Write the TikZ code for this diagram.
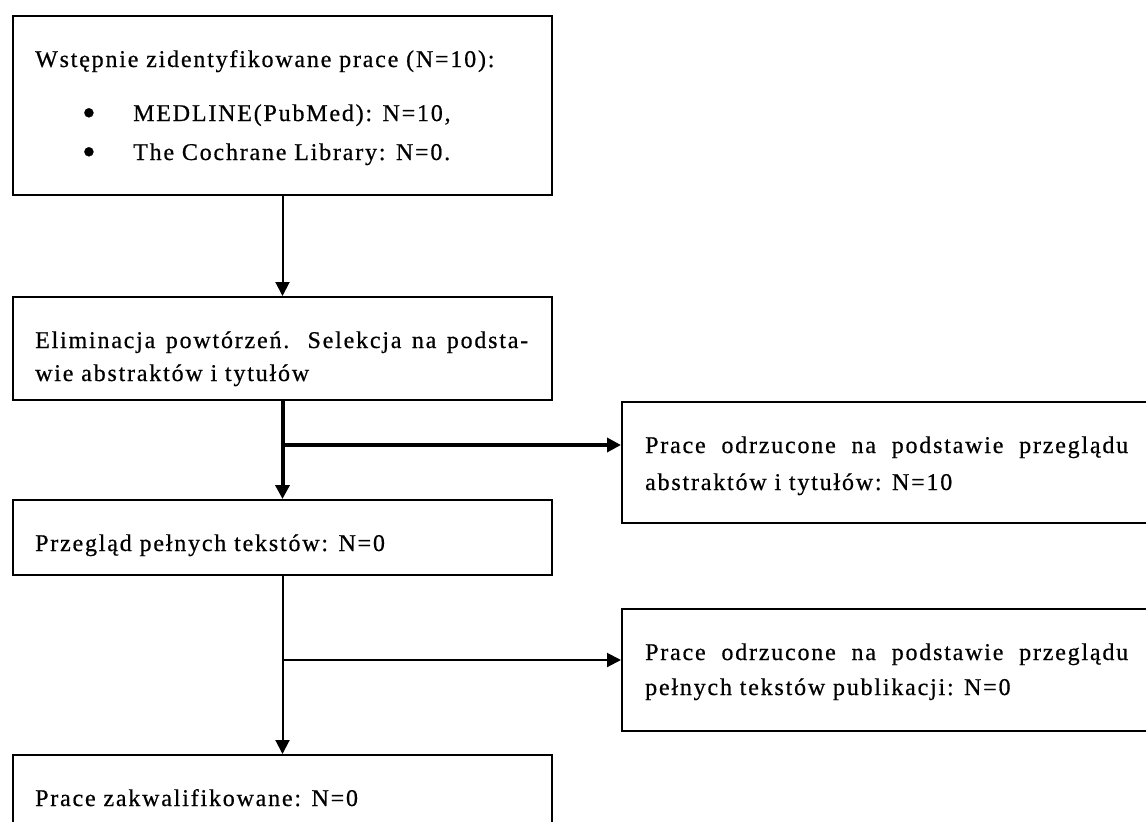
\documentclass[tikz,border=0pt]{standalone}
\usepackage{fontspec}
\setmainfont{Liberation Serif}[LetterSpace=7.5, FakeBold=0.6]
\usetikzlibrary{arrows.meta}
\tikzset{
  box/.style={draw, line width=2pt, rectangle, inner sep=0pt, fill=white},
  txt/.style={inner sep=0pt, anchor=base west},
  thinline/.style={line width=2pt},
  thickline/.style={line width=4pt},
  tip/.style={-{Triangle[width=14pt,length=14pt]}}
}
\newcommand{\bigbul}{\raisebox{-4.5pt}{\scalebox{1.6}{\textbullet}}}
\begin{document}
\begin{tikzpicture}[x=1pt,y=-1pt]
\useasboundingbox (0,0) rectangle (1146,822);
\clip (0,0) rectangle (1146,822);
\fill[white] (0,0) rectangle (1146,822);
% boxes
\node[box, minimum width=539pt, minimum height=179pt] (b1) at (282.5,105.5) {};
\node[box, minimum width=539pt, minimum height=103pt] (b2) at (282.5,348.5) {};
\node[box, minimum width=558pt, minimum height=121pt] (b3) at (901,462.5) {};
\node[box, minimum width=539pt, minimum height=75pt] (b4) at (282.5,537.5) {};
\node[box, minimum width=558pt, minimum height=122pt] (b5) at (901,670) {};
\node[box, minimum width=539pt, minimum height=125pt] (b6) at (282.5,817.5) {};
% texts
\node[txt] (t1) at (35,67) {\parbox[t]{495pt}{\fontsize{24}{39}\selectfont
Wstępnie zidentyfikowane prace (N=10):\\[15pt]
\hspace*{47pt}\makebox[51pt][l]{\bigbul}MEDLINE(PubMed): N=10,\\
\hspace*{47pt}\makebox[51pt][l]{\bigbul}The Cochrane Library: N=0.}};
\node[txt] (t2) at (35,348) {\parbox[t]{493pt}{\fontsize{24}{33}\selectfont
Eliminacja powtórzeń. Selekcja na podsta-\linebreak wie abstraktów i tytułów}};
\node[txt] (t3) at (645,453) {\parbox[t]{483pt}{\fontsize{24}{37}\selectfont
Prace odrzucone na podstawie przeglądu\linebreak abstraktów i tytułów: N=10}};
\node[txt] (t4) at (35,551) {\fontsize{24}{33}\selectfont Przegląd pełnych tekstów: N=0};
\node[txt] (t5) at (645,660) {\parbox[t]{483pt}{\fontsize{24}{35}\selectfont
Prace odrzucone na podstawie przeglądu\linebreak pełnych tekstów publikacji: N=0}};
\node[txt] (t6) at (35,806) {\fontsize{24}{33}\selectfont Prace zakwalifikowane: N=0};
% connectors
\coordinate (j1) at (282.5,445);
\coordinate (j2) at (282.5,660);
\draw[thinline, tip] (b1.south) -- (b2.north);
\draw[thickline, tip] (b2.south) -- (b4.north);
\draw[thickline, tip] (j1) -- (j1 -| b3.west);
\draw[thinline, tip] (b4.south) -- (b6.north);
\draw[thinline, tip] (j2) -- (j2 -| b5.west);
\end{tikzpicture}
\end{document}
